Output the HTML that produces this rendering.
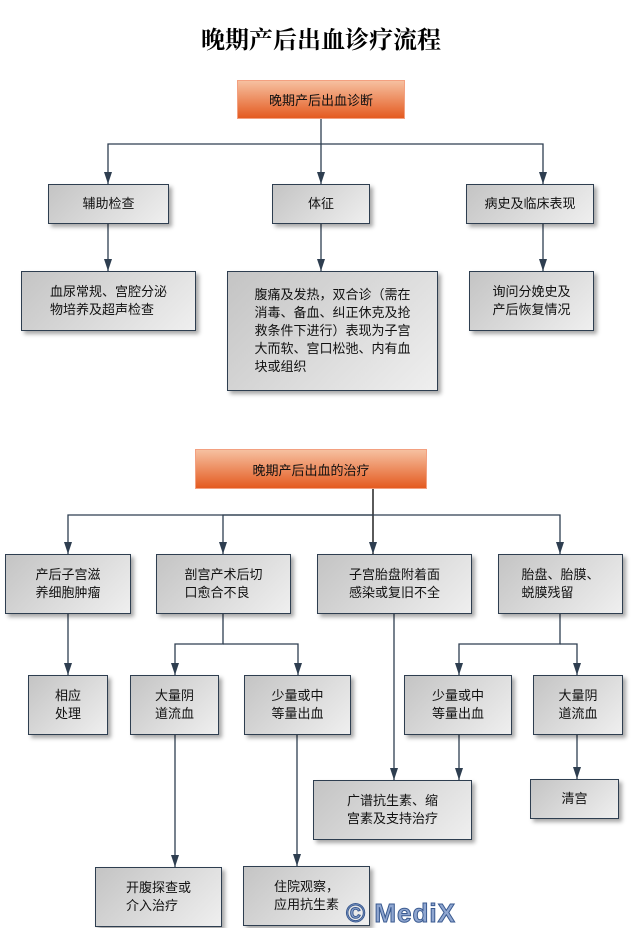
<!DOCTYPE html>
<html><head><meta charset="utf-8"><style>
body{margin:0;width:642px;height:928px;background:#fff;position:relative;overflow:hidden;font-family:"Liberation Sans","Noto Sans CJK SC",sans-serif;}
.b{position:absolute;box-sizing:border-box;border:1px solid #2e3e50;background:linear-gradient(135deg,#c4c4c4,#efefef);box-shadow:3px 3px 4px rgba(0,0,0,.35);display:flex;align-items:center;justify-content:center;font-size:13px;line-height:18px;color:#111;}
.b span{text-align:left;display:inline-block}
.o{position:absolute;box-sizing:border-box;background:linear-gradient(#f6c0a0,#e45a20);border:1px solid #f3a080;display:flex;align-items:center;justify-content:center;font-size:13px;color:#111;}
h1{position:absolute;top:20px;left:0;width:642px;text-align:center;margin:0;font:bold 24px "Liberation Serif","Noto Serif CJK SC",serif;}
svg{position:absolute;left:0;top:0}
</style></head><body>
<h1>晚期产后出血诊疗流程</h1>
<svg width="642" height="928" fill="none" stroke="#2e3e50" stroke-width="1.3">
<defs>
<marker id="d" viewBox="0 0 8 12" markerWidth="8" markerHeight="12" refX="4" refY="12" orient="0" markerUnits="userSpaceOnUse"><path d="M0,0L8,0L4,12z" fill="#2e3e50" stroke="none"/></marker></defs>
<g marker-end="url(#d)">
<path d="M321 119V184"/><path d="M321 144H108V184"/><path d="M321 144H543V184"/>
<path d="M108 224V271"/><path d="M321 224V271"/><path d="M543 224V271"/>
<path d="M373 489V554" stroke="#000"/>
<path d="M373 515H68V554"/><path d="M373 515H223V554"/><path d="M373 515H560V554"/>
<path d="M68 614V675"/>
<path d="M223 614V644H175V675"/><path d="M223 644H298V675"/>
<path d="M560 614V644H459V675"/><path d="M560 644H577V675"/>
<path d="M394 614V780"/><path d="M459 735V780"/><path d="M577 735V779"/>
<path d="M175 735V867"/><path d="M297 735V866"/>
</g></svg>
<div class="o" style="left:237px;top:80px;width:168px;height:39px">晚期产后出血诊断</div>
<div class="b" style="left:48px;top:184px;width:121px;height:40px">辅助检查</div>
<div class="b" style="left:272px;top:184px;width:98px;height:40px">体征</div>
<div class="b" style="left:466px;top:184px;width:128px;height:40px">病史及临床表现</div>
<div class="b" style="left:21px;top:271px;width:175px;height:60px"><span>血尿常规、宫腔分泌<br>物培养及超声检查</span></div>
<div class="b" style="left:227px;top:271px;width:211px;height:120px"><span>腹痛及发热，双合诊（需在<br>消毒、备血、纠正休克及抢<br>救条件下进行）表现为子宫<br>大而软、宫口松弛、内有血<br>块或组织</span></div>
<div class="b" style="left:469px;top:271px;width:125px;height:60px"><span>询问分娩史及<br>产后恢复情况</span></div>
<div class="o" style="left:195px;top:449px;width:232px;height:40px">晚期产后出血的治疗</div>
<div class="b" style="left:5px;top:554px;width:126px;height:60px"><span>产后子宫滋<br>养细胞肿瘤</span></div>
<div class="b" style="left:156px;top:554px;width:135px;height:60px"><span>剖宫产术后切<br>口愈合不良</span></div>
<div class="b" style="left:317px;top:554px;width:155px;height:60px"><span>子宫胎盘附着面<br>感染或复旧不全</span></div>
<div class="b" style="left:498px;top:554px;width:125px;height:60px"><span>胎盘、胎膜、<br>蜕膜残留</span></div>
<div class="b" style="left:28px;top:675px;width:80px;height:60px"><span>相应<br>处理</span></div>
<div class="b" style="left:130px;top:675px;width:89px;height:60px"><span>大量阴<br>道流血</span></div>
<div class="b" style="left:244px;top:675px;width:107px;height:60px"><span>少量或中<br>等量出血</span></div>
<div class="b" style="left:404px;top:675px;width:108px;height:60px"><span>少量或中<br>等量出血</span></div>
<div class="b" style="left:533px;top:675px;width:90px;height:60px"><span>大量阴<br>道流血</span></div>
<div class="b" style="left:313px;top:780px;width:159px;height:60px"><span>广谱抗生素、缩<br>宫素及支持治疗</span></div>
<div class="b" style="left:530px;top:779px;width:89px;height:40px">清宫</div>
<div class="b" style="left:95px;top:867px;width:127px;height:60px"><span>开腹探查或<br>介入治疗</span></div>
<div class="b" style="left:243px;top:866px;width:127px;height:60px"><span>住院观察，<br>应用抗生素</span></div>
<div style="position:absolute;left:346px;top:898px;font:bold 26px 'Liberation Sans',sans-serif;color:#8fa6d0;-webkit-text-stroke:1px #3a5a90;letter-spacing:1px;line-height:30px">© MediX</div>
</body></html>
